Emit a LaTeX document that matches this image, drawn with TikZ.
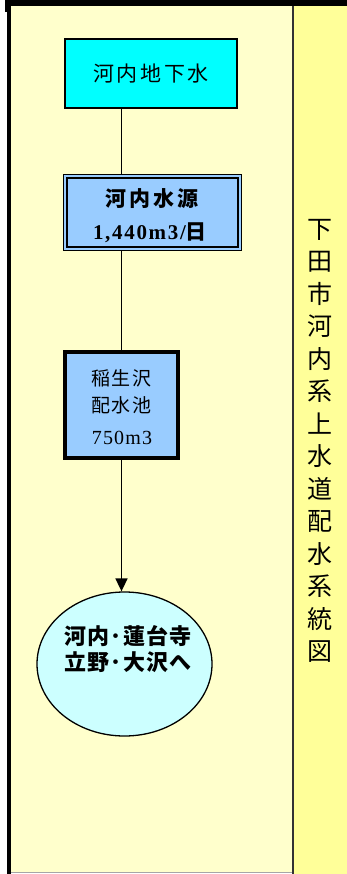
\documentclass[tikz,border=0pt]{standalone}
\usepackage{fontspec}
\newfontfamily\cjk{Noto Sans CJK JP}
\newfontfamily\numf{Liberation Serif}
\usetikzlibrary{shapes.geometric,arrows.meta}
\definecolor{panelA}{HTML}{FFFFCC}
\definecolor{panelB}{HTML}{FFFF99}
\definecolor{boxcyan}{HTML}{00FFFF}
\definecolor{boxblue}{HTML}{99CCFF}
\definecolor{ellfill}{HTML}{CCFFFF}
\definecolor{divider}{HTML}{333333}
\tikzset{
  srcbox/.style={draw=black,line width=2pt,fill=boxcyan,minimum width=172pt,minimum height=69pt,inner sep=0pt},
  mainbox/.style={draw=black,line width=1pt,fill=boxblue,minimum width=178pt,minimum height=76pt,inner sep=0pt},
  tankbox/.style={draw=black,line width=4.5pt,fill=boxblue,minimum width=113pt,minimum height=106pt,inner sep=0pt},
  destell/.style={ellipse,draw=black,line width=1.3pt,fill=ellfill,minimum width=175pt,minimum height=144pt,inner sep=0pt},
  conn/.style={draw=black,line width=1.7pt},
}
\begin{document}
\begin{tikzpicture}[x=1pt,y=-1pt]
\useasboundingbox (0,0) rectangle (347,874);
\fill[white] (0,0) rectangle (347,874);
% panels
\fill[panelA] (10,6) rectangle (293,872);
\fill[panelB] (293,6) rectangle (347,874);
\draw[gray!70,line width=0.8pt] (10,872.5) -- (293,872.5);
% frame
\fill[black] (5,0) rectangle (347,6);
\fill[black] (5,0) rectangle (11,12);
\fill[black] (7,0) rectangle (10.5,874);
\draw[divider,line width=1.5pt] (293,6) -- (293,874);
% nodes
\node[srcbox] (n1) at (151,73.5) {\fontsize{21}{24}\selectfont\cjk\addfontfeature{LetterSpace=13}河内地下水};
\node[mainbox] (n2) at (152,213) {};
\draw[line width=2pt] ([shift={(4,4)}]n2.north west) rectangle ([shift={(-4,-4)}]n2.south east);
\node (n2t1) at (152,199) {\fontsize{21}{24}\selectfont\cjk\bfseries\addfontfeature{LetterSpace=14}河内水源};
\node (n2t2) at (150,233) {\fontsize{21}{24}\selectfont\numf\bfseries\addfontfeature{LetterSpace=8}1,440m3/\cjk 日};
\node[tankbox] (n3) at (121.5,405) {};
\node (n3t1) at (121.5,378) {\fontsize{19}{22}\selectfont\cjk\addfontfeature{LetterSpace=8}稲生沢};
\node (n3t2) at (121.5,405) {\fontsize{19}{22}\selectfont\cjk\addfontfeature{LetterSpace=8}配水池};
\node (n3t3) at (122,438) {\fontsize{20}{22}\selectfont\numf\addfontfeature{LetterSpace=6}750m3};
\node[destell] (e) at (124.5,664) {};
\node[align=center,font=\fontsize{22}{26}\selectfont\cjk\bfseries\addfontfeature{LetterSpace=5}] (et) at (128,649) {河内･蓮台寺\\立野･大沢へ};
% title
\node[align=center,inner sep=0pt,font=\fontsize{25}{32.5}\selectfont\cjk] (title) at (320,441)
  {下\\田\\市\\河\\内\\系\\上\\水\\道\\配\\水\\系\\統\\図};
% connectors
\draw[conn] (n1.south -| n3.center) -- (n2.north -| n3.center);
\draw[conn] (n2.south -| n3.center) -- (n3.north);
\draw[conn,-{Triangle[length=13pt,width=12pt]}] (n3.south) -- (n3.south |- e.north);
\end{tikzpicture}
\end{document}
